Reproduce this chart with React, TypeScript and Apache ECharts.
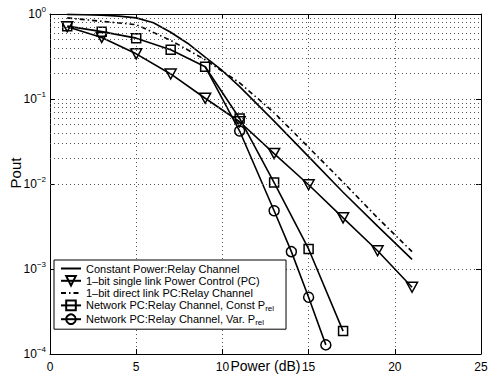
import React, { useEffect, useRef } from "react";
import * as echarts from "echarts";

// ---- data ----
const X_ODD = [1, 3, 5, 7, 9, 11, 13, 15, 17, 19, 21];
const X_SOLID = [1, 2, 3, 4, 5, 6, 7, 8, 9, 10, 11, 13, 15, 17, 19, 21];
const CONST_POWER = [0.99, 0.98, 0.965, 0.945, 0.9, 0.79, 0.61, 0.45, 0.31, 0.215, 0.14, 0.055, 0.021, 0.008, 0.0032, 0.0013];
const DIRECT_LINK = [0.9, 0.82, 0.75, 0.49, 0.29, 0.155, 0.069, 0.027, 0.0105, 0.004, 0.0016];
const SINGLE_LINK = [0.71, 0.53, 0.34, 0.197, 0.102, 0.054, 0.0228, 0.0098, 0.004, 0.00164, 0.00061];
const CONST_PREL_X = [1, 3, 5, 7, 9, 11, 13, 15, 17];
const CONST_PREL = [0.72, 0.62, 0.52, 0.38, 0.24, 0.059, 0.0104, 0.00172, 0.000186];
const VAR_PREL_X = [9, 11, 13, 14, 15, 16];
const VAR_PREL = [0.24, 0.042, 0.00485, 0.0016, 0.000465, 0.000128];

const X_MIN = 0;
const X_MAX = 25;
const X_INTERVAL = 5;
const Y_MIN = 1e-4;
const Y_MAX = 1;
const DECADES = [1e-4, 1e-3, 1e-2, 1e-1];
const MINOR_MULT = [2, 3, 4, 5, 6, 7, 8, 9];

const NAMES = [
  "Constant Power:Relay Channel",
  "1\u2013bit single link Power Control (PC)",
  "1\u2013bit direct link PC:Relay Channel",
  "Network PC:Relay Channel, Const Prel",
  "Network PC:Relay Channel, Var. Prel",
];

const FONT = "'Liberation Sans', Arial, Helvetica, sans-serif";
const TRI_DOWN = "path://M0,0L10,0L5,9Z";

function pairs(xs: number[], ys: number[]) {
  return xs.map((x, i) => [x, ys[i]]);
}

export default function App() {
  const ref = useRef<HTMLDivElement>(null);
  useEffect(() => {
    if (!ref.current) return;
    const chart = echarts.init(ref.current, undefined, { renderer: "svg" });

    const gridDot = { type: [1, 3] as any, color: "#555", width: 1 };
    const minorLines: any[] = [];
    DECADES.forEach((d) => MINOR_MULT.forEach((m) => minorLines.push({ yAxis: m * d })));

    const expLabel = (v: number) => {
      const e = Math.round(Math.log10(v));
      const s = e < 0 ? "\u2212" + -e : String(e);
      return "{b|10}{s|" + s + "}";
    };

    const lineCommon = {
      type: "line",
      z: 3,
      xAxisIndex: 0,
      yAxisIndex: 0,
      symbolKeepAspect: false,
    };
    const markerStyle = { color: "transparent", borderColor: "#000", borderWidth: 1.5 };
    const noSymbol = { color: "transparent", borderColor: "transparent", borderWidth: 0 };

    const option: any = {
      animation: false,
      backgroundColor: "#fff",
      textStyle: { fontFamily: FONT },
      grid: {
        left: 50,
        top: 14,
        right: 8,
        bottom: 22,
        containLabel: false,
        outerBoundsMode: "none",
      },
      legend: {
        data: [
          { name: NAMES[0], itemStyle: noSymbol },
          { name: NAMES[1] },
          { name: NAMES[2], itemStyle: noSymbol },
          { name: NAMES[3] },
          { name: NAMES[4] },
        ],
        orient: "vertical",
        left: 54,
        top: 260,
        padding: [3, 12, 3, 6],
        itemGap: 1,
        itemWidth: 20,
        itemHeight: 12,
        backgroundColor: "#fff",
        borderColor: "#000",
        borderWidth: 1,
        borderRadius: 0,
        selectedMode: false,
        textStyle: {
          fontFamily: FONT,
          fontSize: 11,
          color: "#000",
          rich: {
            t: { fontFamily: FONT, fontSize: 11, color: "#000" },
            s: { fontFamily: FONT, fontSize: 8, color: "#000", padding: [6, 0, 0, 0] },
          },
        },
        formatter: (name: string) =>
          name.endsWith("Prel") ? "{t|" + name.slice(0, -3) + "}{s|rel}" : name,
      },
      xAxis: [
        {
          type: "value",
          min: X_MIN,
          max: X_MAX,
          interval: X_INTERVAL,
          position: "bottom",
          name: "Power (dB)",
          nameLocation: "middle",
          nameGap: 5,
          nameMoveOverlap: false,
          nameTextStyle: { fontFamily: FONT, fontSize: 14, color: "#000" },
          axisLine: { onZero: false, lineStyle: { color: "#000", width: 1 } },
          axisTick: { inside: true, length: 5, lineStyle: { color: "#000" } },
          axisLabel: { fontFamily: FONT, fontSize: 12, color: "#000", margin: 7 },
          splitLine: { show: true, lineStyle: gridDot },
        },
        {
          type: "value",
          min: X_MIN,
          max: X_MAX,
          interval: X_INTERVAL,
          position: "top",
          axisLine: { onZero: false, lineStyle: { color: "#000", width: 1 } },
          axisTick: { inside: true, length: 5, lineStyle: { color: "#000" } },
          axisLabel: { show: false },
          splitLine: { show: false },
        },
      ],
      yAxis: [
        {
          type: "log",
          logBase: 10,
          min: Y_MIN,
          max: Y_MAX,
          position: "left",
          axisLine: { onZero: false, lineStyle: { color: "#000", width: 1 } },
          axisTick: { inside: true, length: 5, lineStyle: { color: "#000" } },
          axisLabel: {
            fontFamily: FONT,
            color: "#000",
            margin: 4,
            align: "right",
            formatter: expLabel,
            rich: {
              b: { fontFamily: FONT, fontSize: 12, color: "#000" },
              s: { fontFamily: FONT, fontSize: 8, color: "#000", padding: [0, 0, 10, 0] },
            },
          },
          splitLine: { show: true, lineStyle: gridDot },
        },
        {
          type: "log",
          logBase: 10,
          min: Y_MIN,
          max: Y_MAX,
          position: "right",
          axisLine: { onZero: false, lineStyle: { color: "#000", width: 1 } },
          axisTick: { inside: true, length: 5, lineStyle: { color: "#000" } },
          axisLabel: { show: false },
          splitLine: { show: false },
        },
      ],
      graphic: [
        {
          type: "text",
          x: 15,
          y: 173,
          rotation: Math.PI / 2,
          style: {
            text: "Pout",
            font: "15px " + FONT,
            fill: "#000",
            align: "center",
            verticalAlign: "middle",
          },
          z: 10,
        },
      ],
      series: [
        {
          name: "minor-grid",
          type: "line",
          data: [],
          z: 1,
          silent: true,
          markLine: {
            silent: true,
            symbol: ["none", "none"],
            label: { show: false },
            lineStyle: gridDot,
            data: minorLines,
            animation: false,
          },
        },
        {
          ...lineCommon,
          name: NAMES[0],
          data: pairs(X_SOLID, CONST_POWER),
          symbol: "none",
          lineStyle: { color: "#000", width: 1.6, type: "solid" },
          itemStyle: { color: "#000" },
        },
        {
          ...lineCommon,
          name: NAMES[1],
          data: pairs(X_ODD, SINGLE_LINK),
          symbol: TRI_DOWN,
          symbolSize: [11, 10],
          lineStyle: { color: "#000", width: 1.6 },
          itemStyle: markerStyle,
        },
        {
          ...lineCommon,
          name: NAMES[2],
          data: pairs(X_ODD, DIRECT_LINK),
          symbol: "none",
          lineStyle: { color: "#000", width: 1.6, type: [5, 3, 1.5, 3] },
          itemStyle: { color: "#000" },
        },
        {
          ...lineCommon,
          name: NAMES[3],
          data: pairs(CONST_PREL_X, CONST_PREL),
          symbol: "rect",
          symbolSize: 9,
          lineStyle: { color: "#000", width: 1.6 },
          itemStyle: markerStyle,
        },
        {
          ...lineCommon,
          name: NAMES[4],
          data: pairs(VAR_PREL_X, VAR_PREL).map((p, i) =>
            i === 0 ? { value: p, symbol: "none" } : { value: p }
          ),
          symbol: "circle",
          symbolSize: 10,
          lineStyle: { color: "#000", width: 1.6 },
          itemStyle: markerStyle,
        },
      ],
    };
    chart.setOption(option);
    return () => chart.dispose();
  }, []);

  return (
    <div
      ref={ref}
      style={{ position: "fixed", left: 0, top: 0, width: 489, height: 376, background: "#fff" }}
    />
  );
}
